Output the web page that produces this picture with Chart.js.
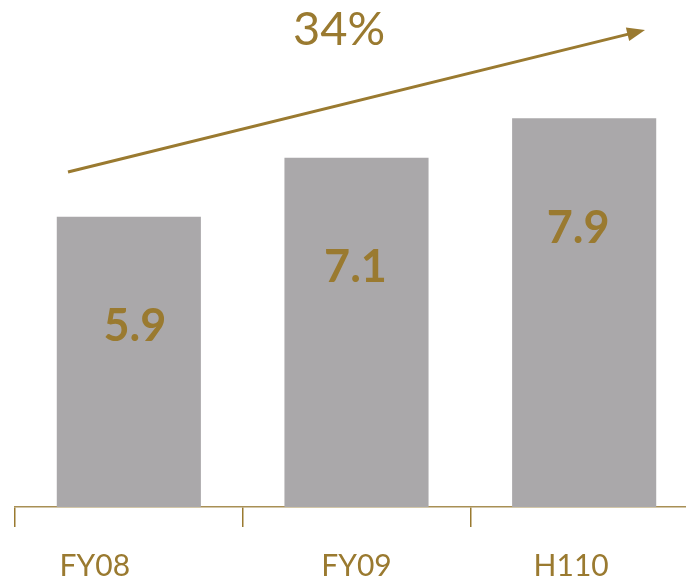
<!DOCTYPE html>
<html>
<head>
<meta charset="utf-8">
<script src="https://cdn.jsdelivr.net/npm/chart.js@4.4.0/dist/chart.umd.min.js"></script>
<style>
  html, body { margin: 0; padding: 0; background: #fff; overflow: hidden; }
  #wrap { width: 686px; height: 584px; overflow: hidden; }
</style>
</head>
<body>
<div id="wrap"><canvas id="myChart" width="698" height="584"></canvas></div>
<script>
var categories = ["FY08", "FY09", "H110"];
var values = [5.9, 7.1, 7.9];
var growthLabel = "34%";

var gold = '#9a7a30';
var grey = '#aaa8aa';

// small nudges for the labels, as in the slide
var labelShift = [-34, 0, -13];
var valueShift = [6, -1, -6];

var overlay = {
    id: 'overlay',
    afterDatasetsDraw: function(chart) {
        var ctx = chart.ctx;
        var x = chart.scales.x, y = chart.scales.y;
        ctx.save();
        ctx.fillStyle = gold;
        ctx.textAlign = 'center';
        ctx.textBaseline = 'middle';

        // values inside the bars
        ctx.font = 'bold 45px Lato, "Open Sans", sans-serif';
        values.forEach(function(v, i) {
            ctx.fillText(v.toFixed(1), x.getPixelForValue(i) + valueShift[i], y.getPixelForValue(v) + 110);
        });

        // category labels
        ctx.font = '30px Lato, "Open Sans", sans-serif';
        categories.forEach(function(c, i) {
            ctx.fillText(c, x.getPixelForValue(i) + labelShift[i], 566);
        });

        // growth arrow
        var x0 = 68, y0 = 172, x1 = 645, y1 = 30;
        var ang = Math.atan2(y1 - y0, x1 - x0);
        ctx.strokeStyle = gold;
        ctx.lineWidth = 3;
        ctx.beginPath();
        ctx.moveTo(x0, y0);
        ctx.lineTo(x1 - 14 * Math.cos(ang), y1 - 14 * Math.sin(ang));
        ctx.stroke();
        ctx.beginPath();
        ctx.moveTo(x1, y1);
        ctx.lineTo(x1 - 18 * Math.cos(ang) + 7 * Math.sin(ang), y1 - 18 * Math.sin(ang) - 7 * Math.cos(ang));
        ctx.lineTo(x1 - 18 * Math.cos(ang) - 7 * Math.sin(ang), y1 - 18 * Math.sin(ang) + 7 * Math.cos(ang));
        ctx.closePath();
        ctx.fill();

        ctx.font = '47px Lato, "Open Sans", sans-serif';
        ctx.fillText(growthLabel, 339, 30);
        ctx.restore();
    }
};

var ctx = document.getElementById('myChart').getContext('2d');

var myBarChart = new Chart(ctx, {
    type: 'bar',
    data: {
        labels: categories,
        datasets: [{
            data: values,
            backgroundColor: grey,
            borderWidth: 0,
            barPercentage: 0.633,
            categoryPercentage: 1
        }]
    },
    options: {
        responsive: false,
        animation: false,
        layout: { padding: { left: 15, right: 0, top: 15, bottom: 57 } },
        plugins: { legend: { display: false }, tooltip: { enabled: false } },
        scales: {
            x: {
                grid: {
                    offset: true,
                    drawOnChartArea: false,
                    drawTicks: true,
                    tickLength: 20,
                    color: gold,
                    lineWidth: 1.5
                },
                border: { color: '#a88f55', width: 1.5 },
                ticks: { display: false }
            },
            y: {
                display: false,
                min: 0,
                max: 10
            }
        }
    },
    plugins: [overlay]
});
</script>
</body>
</html>
